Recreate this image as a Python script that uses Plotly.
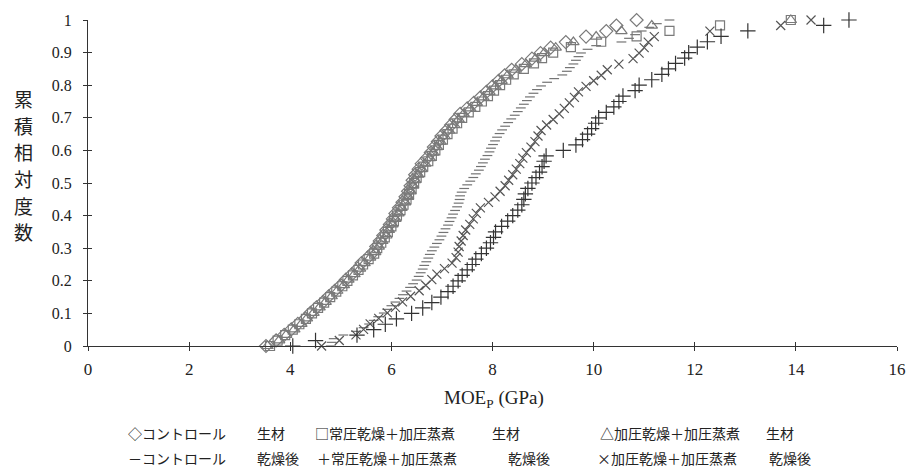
import plotly.graph_objects as go

# MOE_p values (GPa) of each group, sorted; cumulative relative frequency = rank / (n-1)
control_raw = [3.52,3.72,3.88,4.02,4.15,4.30,4.40,4.52,4.65,4.76, 4.88,5.00,5.10,5.22,5.33,5.41,5.53,5.64,5.70,5.77,
               5.84,5.90,5.97,6.03,6.08,6.15,6.22,6.28,6.33,6.38, 6.42,6.47,6.54,6.60,6.70,6.78,6.84,6.92,6.99,7.09,
               7.18,7.27,7.36,7.50,7.63,7.76,7.88,8.00,8.12,8.24, 8.38,8.58,8.78,8.95,9.15,9.45,9.85,10.25,10.45,10.85]
normal_raw = [3.60,3.75,3.90,4.05,4.18,4.31,4.43,4.55,4.67,4.79, 4.91,5.03,5.13,5.24,5.35,5.44,5.55,5.66,5.72,5.80,
              5.87,5.93,6.00,6.05,6.11,6.18,6.24,6.30,6.35,6.40, 6.45,6.50,6.57,6.63,6.73,6.80,6.87,6.94,7.02,7.11,
              7.21,7.30,7.40,7.53,7.66,7.79,7.91,8.03,8.15,8.27, 8.42,8.62,8.82,8.98,9.20,9.55,10.15,10.85,11.5,12.5,
              13.9]
press_raw = [3.55,3.78,3.92,4.08,4.22,4.33,4.46,4.58,4.70,4.82, 4.93,5.06,5.15,5.27,5.38,5.47,5.58,5.68,5.75,5.82,
             5.90,5.95,6.02,6.08,6.14,6.20,6.27,6.33,6.38,6.43, 6.47,6.53,6.60,6.67,6.76,6.83,6.90,6.97,7.05,7.14,
             7.24,7.33,7.43,7.56,7.69,7.82,7.94,8.06,8.18,8.30, 8.46,8.66,8.85,9.02,9.25,9.60,10.05,10.55,11.15,13.9]
control_dry = [4.80,4.82,4.86,5.05,5.30,5.45,5.56,5.65,5.74,5.85, 5.92,6.00,6.08,6.16,6.23,6.30,6.37,6.43,6.50,6.54,
               6.58,6.62,6.65,6.69,6.73,6.76,6.80,6.85,6.90,6.95, 6.99,7.03,7.07,7.12,7.15,7.19,7.22,7.26,7.30,7.33,
               7.35,7.36,7.39,7.44,7.50,7.56,7.62,7.67,7.73,7.77, 7.81,7.85,7.90,7.94,7.97,8.01,8.05,8.09,8.14,8.19,
               8.25,8.31,8.37,8.44,8.50,8.56,8.62,8.68,8.74,8.81, 8.88,8.96,9.08,9.22,9.38,9.47,9.53,9.60,9.65,9.70,
               9.75,9.88,10.05,10.55,10.70,10.82,10.95,11.10,11.25,11.5]
normal_dry = [4.05,4.50,5.32,5.65,5.88,6.10,6.40,6.62,6.80,6.98, 7.12,7.22,7.32,7.40,7.50,7.60,7.67,7.78,7.88,7.96,
              8.02,8.06,8.18,8.30,8.40,8.50,8.58,8.62,8.65,8.70, 8.78,8.86,8.93,8.98,9.02,9.06,9.40,9.65,9.78,9.88,
              9.96,10.04,10.10,10.25,10.40,10.50,10.58,10.82,10.90,11.15, 11.35,11.48,11.62,11.80,11.88,12.05,12.25,12.52,13.05,14.55,
              15.05]
press_dry = [4.62,4.97,5.30,5.45,5.58,5.75,5.92,6.08,6.22,6.38, 6.55,6.68,6.80,6.90,7.05,7.20,7.28,7.32,7.34,7.38,
             7.42,7.47,7.55,7.62,7.68,7.76,7.92,8.05,8.15,8.25, 8.32,8.40,8.47,8.54,8.60,8.67,8.76,8.84,8.90,8.96,
             9.07,9.20,9.32,9.42,9.52,9.62,9.70,9.85,10.00,10.15, 10.27,10.50,10.78,10.90,11.00,11.08,11.20,12.30,13.70,14.30]

x_ticks = [0, 2, 4, 6, 8, 10, 12, 14, 16]
y_ticks = [0, 0.1, 0.2, 0.3, 0.4, 0.5, 0.6, 0.7, 0.8, 0.9, 1.0]
y_ticktext = ["0", "0.1", "0.2", "0.3", "0.4", "0.5", "0.6", "0.7", "0.8", "0.9", "1"]

legend_rows = [
    [("◇コントロール", "生材"), ("□常圧乾燥＋加圧蒸煮", "生材"), ("△加圧乾燥＋加圧蒸煮", "生材")],
    [("－コントロール", "乾燥後"), ("＋常圧乾燥＋加圧蒸煮", "乾燥後"), ("×加圧乾燥＋加圧蒸煮", "乾燥後")],
]
y_title_chars = ["累", "積", "相", "対", "度", "数"]

series = [
    (control_raw, "diamond-open", 10, "#7a7a7a"),
    (normal_raw, "square-open", 9, "#7a7a7a"),
    (press_raw, "triangle-up-open", 10, "#7a7a7a"),
    (control_dry, "line-ew-open", 7, "#747474"),
    (press_dry, "x-thin-open", 9, "#555555"),
    (normal_dry, "cross-thin-open", 11, "#333333"),
]

# plot-area pixel geometry
L, R, T, B = 88, 906, 18, 346
W, H = 918, 470

fig = go.Figure()
for vals, sym, size, col in series:
    n = len(vals)
    cum = [i / (n - 1) for i in range(n)]
    fig.add_trace(go.Scatter(
        x=vals, y=cum, mode="markers", showlegend=False, cliponaxis=False,
        marker=dict(symbol=sym, size=size, color=col, line=dict(color=col, width=1.2)),
    ))

# invisible trace for the overlay axes (inside tick marks -> crossing ticks)
fig.add_trace(go.Scatter(x=[None], y=[None], xaxis="x2", yaxis="y2", showlegend=False, hoverinfo="skip"))

axis_common = dict(showgrid=False, zeroline=False, ticklen=4, tickcolor="#333", tickwidth=1)
fig.update_layout(
    width=W, height=H,
    margin=dict(l=L, r=W - R, t=T, b=H - B),
    paper_bgcolor="white", plot_bgcolor="white",
    xaxis=dict(range=[0, 16], tickvals=x_ticks, ticks="outside", showline=True, linecolor="#333", linewidth=1,
               tickfont=dict(family="Liberation Serif", size=17, color="#222"), ticklabelstandoff=4, **axis_common),
    yaxis=dict(range=[0, 1], tickvals=y_ticks, ticktext=y_ticktext, ticks="outside", showline=True,
               linecolor="#333", linewidth=1,
               tickfont=dict(family="Liberation Serif", size=16, color="#222"), ticklabelstandoff=8, **axis_common),
    xaxis2=dict(range=[0, 16], overlaying="x", anchor="y2", tickvals=x_ticks, ticks="inside", showticklabels=False,
                showline=False, **axis_common),
    yaxis2=dict(range=[0, 1], overlaying="y", anchor="x2", tickvals=y_ticks, ticks="inside", showticklabels=False,
                showline=False, **axis_common),
)

def px_x(px):
    return (px - L) / (R - L)

def px_y(py):
    return (B - py) / (B - T)

ann = []
ann.append(dict(text="MOE<sub>P</sub> (GPa)", x=px_x(499), y=px_y(399), xref="paper", yref="paper",
                showarrow=False, xanchor="center", yanchor="middle",
                font=dict(family="Liberation Serif", size=19, color="#222")))
for i, ch in enumerate(y_title_chars):
    ann.append(dict(text=ch, x=px_x(23), y=px_y(97 + i * 26.8), xref="paper", yref="paper", showarrow=False,
                    xanchor="center", yanchor="middle",
                    font=dict(family="Noto Sans CJK JP", size=19, color="#222")))
col_x = [[126, 316, 604], [126, 318, 601]]
suf_x = [[257, 494, 772], [257, 511, 775]]
row_y = [434, 459]
for r, row in enumerate(legend_rows):
    for c, (lab, suf) in enumerate(row):
        ann.append(dict(text=lab, x=px_x(col_x[r][c]), y=px_y(row_y[r]), xref="paper", yref="paper",
                        showarrow=False, xanchor="left", yanchor="middle",
                        font=dict(family="Noto Sans CJK JP", size=14, color="#222")))
        ann.append(dict(text=suf, x=px_x(suf_x[r][c]), y=px_y(row_y[r]), xref="paper", yref="paper",
                        showarrow=False, xanchor="left", yanchor="middle",
                        font=dict(family="Noto Sans CJK JP", size=14, color="#222")))
fig.update_layout(annotations=ann)

fig.write_html("out.html")
